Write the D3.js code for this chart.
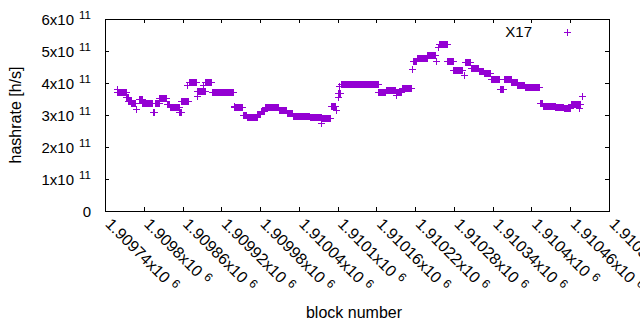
<!doctype html>
<html lang="en">
<head>
<meta charset="utf-8">
<title>hashrate</title>
<script src="https://d3js.org/d3.v7.min.js"></script>
<style>
  body { margin: 0; background: #fff; }
  text { font-family: "Liberation Sans", Arial, sans-serif; fill: #000; }
</style>
</head>
<body>
<div id="chart"></div>
<script>
// runs of blocks that share the same hashrate estimate (first block, last block, h/s)
const runFirst = [1909758, 1909759, 1909773, 1909776, 1909781, 1909788, 1909793, 1909798, 1909814, 1909817,
                  1909824, 1909836, 1909840, 1909855, 1909858, 1909867, 1909870, 1909882, 1909883, 1909892,
                  1909895, 1909905, 1909939, 1909940, 1909953, 1909959, 1909976, 1909981, 1909987, 1910009,
                  1910021, 1910031, 1910057, 1910075, 1910076, 1910089, 1910097, 1910100, 1910101, 1910102,
                  1910105, 1910163, 1910175, 1910190, 1910191, 1910199, 1910215, 1910217, 1910223, 1910239,
                  1910252, 1910256, 1910257, 1910270, 1910279, 1910295, 1910297, 1910306, 1910319, 1910326,
                  1910337, 1910351, 1910357, 1910369, 1910378, 1910390, 1910413, 1910418, 1910437, 1910450,
                  1910461, 1910474, 1910478]
const runLast = [1909758, 1909772, 1909775, 1909780, 1909786, 1909788, 1909797, 1909812, 1909816, 1909823,
                 1909835, 1909839, 1909854, 1909857, 1909869, 1909867, 1909881, 1909894, 1909883, 1909892,
                 1909904, 1909938, 1909939, 1909952, 1909958, 1909975, 1909980, 1909986, 1910008, 1910020,
                 1910030, 1910056, 1910074, 1910075, 1910088, 1910096, 1910097, 1910100, 1910104, 1910102,
                 1910162, 1910174, 1910189, 1910190, 1910198, 1910213, 1910215, 1910222, 1910238, 1910251,
                 1910252, 1910256, 1910269, 1910278, 1910292, 1910295, 1910305, 1910318, 1910325, 1910336,
                 1910350, 1910356, 1910368, 1910377, 1910389, 1910412, 1910417, 1910436, 1910449, 1910460,
                 1910475, 1910474, 1910478]
const runRate = [3.81e11, 3.73e11, 3.55e11, 3.44e11, 3.39e11, 3.19e11, 3.50e11, 3.37e11, 3.09e11, 3.38e11,
                 3.52e11, 3.34e11, 3.24e11, 3.08e11, 3.44e11, 3.94e11, 4.02e11, 3.74e11, 3.59e11, 3.94e11,
                 4.02e11, 3.71e11, 3.29e11, 3.24e11, 2.99e11, 2.93e11, 3.03e11, 3.13e11, 3.24e11, 3.16e11,
                 3.05e11, 2.97e11, 2.94e11, 2.74e11, 2.90e11, 3.28e11, 3.16e11, 3.55e11, 3.68e11, 3.91e11,
                 3.96e11, 3.71e11, 3.77e11, 3.63e11, 3.72e11, 3.83e11, 4.43e11, 4.68e11, 4.77e11, 4.89e11,
                 4.69e11, 5.13e11, 5.21e11, 4.70e11, 4.40e11, 4.25e11, 4.65e11, 4.46e11, 4.36e11, 4.32e11,
                 4.12e11, 3.80e11, 4.12e11, 4.04e11, 3.94e11, 3.87e11, 3.39e11, 3.29e11, 3.26e11, 3.22e11,
                 3.33e11, 3.23e11, 3.59e11]

const xTicks = [1909740, 1909800, 1909860, 1909920, 1909980, 1910040, 1910100,
                1910160, 1910220, 1910280, 1910340, 1910400, 1910460, 1910520]
const yTicks = [0, 1e11, 2e11, 3e11, 4e11, 5e11, 6e11]
const seriesName = 'X17'

const width = 640, height = 330
const mLeft = 105, mRight = 609, mTop = 19, mBottom = 211
const color = '#9400d3'

const svg = d3.select('#chart').append('svg')
    .attr('width', width).attr('height', height)

const x = d3.scaleLinear().domain([1909740, 1910520]).range([mLeft, mRight])
const y = d3.scaleLinear().domain([0, 6e11]).range([mBottom, mTop])

// ticks on all four sides, pointing inward
const axes = [
    [d3.axisBottom(x).tickValues(xTicks), `translate(0,${mBottom})`, 'xb'],
    [d3.axisTop(x).tickValues(xTicks), `translate(0,${mTop})`, 'xt'],
    [d3.axisLeft(y).tickValues(yTicks), `translate(${mLeft},0)`, 'yl'],
    [d3.axisRight(y).tickValues(yTicks), `translate(${mRight},0)`, 'yr']
]
axes.forEach(([ax, tr, cls]) => {
    const g = svg.append('g').attr('class', cls).attr('transform', tr)
        .call(ax.tickSizeInner(-4).tickSizeOuter(0).tickFormat(''))
    g.select('.domain').remove()
    g.selectAll('line').attr('stroke', '#000').attr('shape-rendering', 'crispEdges')
})

svg.append('rect')
    .attr('x', mLeft + 0.5).attr('y', mTop + 0.5)
    .attr('width', mRight - mLeft).attr('height', mBottom - mTop)
    .attr('fill', 'none').attr('stroke', '#000').attr('shape-rendering', 'crispEdges')

// y tick labels: Nx10^11
svg.select('.yl').selectAll('.tick').each(function (d) {
    const t = d3.select(this).append('text')
        .attr('x', -14).attr('y', 5).attr('text-anchor', 'end')
        .attr('font-size', 15)
    if (d === 0) { t.text('0'); return }
    t.append('tspan').text(`${d / 1e11}x10`)
    t.append('tspan').attr('dx', 5).attr('dy', -5.5).attr('font-size', 11.5).text('11')
})

// x tick labels, rotated
svg.select('.xb').selectAll('.tick').each(function (d) {
    const t = d3.select(this).append('text')
        .attr('transform', 'translate(-1,14) rotate(45)')
        .attr('text-anchor', 'start')
        .attr('font-size', 16)
    t.append('tspan').text(`${+(d / 1e6).toFixed(5)}x10`)
    t.append('tspan').attr('dx', 5).attr('dy', -5).attr('font-size', 12).text('6')
})

svg.append('text')
    .attr('transform', `translate(21,${(mTop + mBottom) / 2}) rotate(-90)`)
    .attr('text-anchor', 'middle').attr('font-size', 16)
    .text('hashrate [h/s]')

svg.append('text')
    .attr('x', 354).attr('y', 318)
    .attr('text-anchor', 'middle').attr('font-size', 16)
    .text('block number')

const plus = (cx, cy) => {
    cx = Math.round(cx); cy = Math.round(cy)
    return `M${cx - 3},${cy + 0.5}h7M${cx + 0.5},${cy - 3}v7`
}

const points = runFirst.flatMap((f, i) =>
    d3.range(f, runLast[i] + 1).map(b => ({ block: b, rate: runRate[i] })))

svg.append('g').selectAll('path')
    .data(points)
    .join('path')
    .attr('d', d => plus(x(d.block), y(d.rate)))
    .attr('stroke', color)
    .attr('fill', 'none')
    .attr('shape-rendering', 'crispEdges')

// key
svg.append('text')
    .attr('x', 532).attr('y', 37).attr('text-anchor', 'end')
    .attr('font-size', 15).text(seriesName)
svg.append('path')
    .attr('d', plus(567, 32))
    .attr('stroke', color).attr('fill', 'none')
    .attr('shape-rendering', 'crispEdges')
</script>
</body>
</html>
